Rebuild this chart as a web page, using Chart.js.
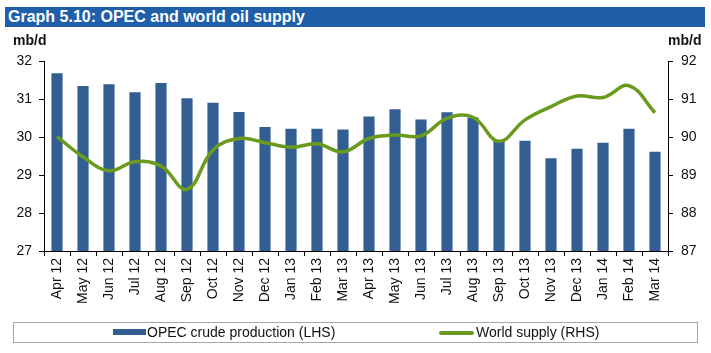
<!DOCTYPE html>
<html>
<head>
<meta charset="utf-8">
<script src="https://cdn.jsdelivr.net/npm/chart.js@4/dist/chart.umd.min.js"></script>
<style>
  body { margin: 0; background: #fff; font-family: "Liberation Sans", Arial, sans-serif; }
  #wrap { position: relative; width: 711px; height: 353px; }
  #graph { position: absolute; left: 0; top: 0; }
  .title {
    position: absolute; left: 5px; top: 7px; width: 700px; height: 20px;
    background: #1f5ea8; color: #fff; font-weight: bold; font-size: 16px;
    line-height: 20px; padding-left: 3px; box-sizing: border-box;
  }
  .unit { position: absolute; top: 32px; font-size: 14px; font-weight: bold; color: #111; }
  .legend {
    position: absolute; left: 13px; top: 322px; width: 685px; height: 21px;
    border: 1px solid #a6a6a6; box-sizing: border-box; font-size: 14px; color: #111;
  }
  .legend span { position: absolute; top: 1px; }
  .sw { position: absolute; }
</style>
</head>
<body>
<div id="wrap">
  <canvas id="graph" width="711" height="353"></canvas>
  <div class="title">Graph 5.10: OPEC and world oil supply</div>
  <div class="unit" style="left:13px">mb/d</div>
  <div class="unit" style="left:668px">mb/d</div>
  <div class="legend">
    <div class="sw" style="left:99px;top:6px;width:33px;height:6px;background:#335e91"></div>
    <span style="left:133px">OPEC crude production (LHS)</span>
    <div class="sw" style="left:425px;top:8px;width:35px;height:4px;border-radius:2px;background:#6b9b1e"></div>
    <span style="left:462px">World supply (RHS)</span>
  </div>
</div>
<script>
// Values
const months = ['Apr 12', 'May 12', 'Jun 12', 'Jul 12', 'Aug 12', 'Sep 12', 'Oct 12', 'Nov 12',
  'Dec 12', 'Jan 13', 'Feb 13', 'Mar 13', 'Apr 13', 'May 13', 'Jun 13', 'Jul 13', 'Aug 13',
  'Sep 13', 'Oct 13', 'Nov 13', 'Dec 13', 'Jan 14', 'Feb 14', 'Mar 14'];
const opecCrude = [31.68, 31.34, 31.39, 31.18, 31.42, 31.02, 30.90, 30.66, 30.26, 30.22, 30.22, 30.20,
  30.54, 30.73, 30.46, 30.65, 30.51, 29.90, 29.90, 29.44, 29.69, 29.85, 30.22, 29.61];
const worldSupply = [90.01, 89.48, 89.11, 89.35, 89.24, 88.62, 89.66, 89.96, 89.85, 89.73, 89.82, 89.61,
  89.96, 90.05, 90.03, 90.49, 90.52, 89.89, 90.45, 90.80, 91.08, 91.04, 91.35, 90.64];
const lhsTicks = { min: 27, max: 32 };
const rhsTicks = { min: 87, max: 92 };

const tickFont = { family: 'Liberation Sans', size: 14 };

const config = {
  type: 'bar',
  data: {
    labels: months,
    datasets: [
      {
        type: 'line',
        label: 'World supply (RHS)',
        data: worldSupply,
        yAxisID: 'y2',
        borderColor: '#6b9b1e',
        borderWidth: 3.5,
        pointRadius: 0,
        tension: 0.4,
        order: 0,
      },
      {
        label: 'OPEC crude production (LHS)',
        data: opecCrude,
        yAxisID: 'y',
        backgroundColor: '#335e91',
        categoryPercentage: 1,
        barPercentage: 0.43,
        order: 1,
      }
    ]
  },
  options: {
    responsive: false,
    animation: false,
    layout: { padding: { top: 61, left: 0, right: 0, bottom: 0 } },
    plugins: {
      legend: { display: false },
      tooltip: { enabled: false },
    },
    scales: {
      x: {
        grid: { drawOnChartArea: false, tickLength: 5, color: '#000' },
        border: { color: '#000' },
        ticks: {
          autoSkip: false, minRotation: 90, maxRotation: 90, padding: 2,
          color: '#111', font: { family: 'Liberation Sans', size: 14 },
        },
        afterFit: (s) => { s.height = 102; },
      },
      y: {
        position: 'left',
        min: lhsTicks.min, max: lhsTicks.max,
        grid: { drawOnChartArea: false, tickLength: 5, color: '#000' },
        border: { color: '#000' },
        ticks: { stepSize: 1, padding: 7, color: '#111', font: tickFont },
        afterFit: (s) => { s.width = 44; },
      },
      y2: {
        position: 'right',
        min: rhsTicks.min, max: rhsTicks.max,
        grid: { drawOnChartArea: false, tickLength: 5, color: '#000' },
        border: { color: '#000' },
        ticks: { stepSize: 1, padding: 8, color: '#111', font: tickFont },
        afterFit: (s) => { s.width = 43; },
      }
    }
  }
};

const oilChart = new Chart(document.getElementById('graph').getContext('2d'), config);
</script>
</body>
</html>
